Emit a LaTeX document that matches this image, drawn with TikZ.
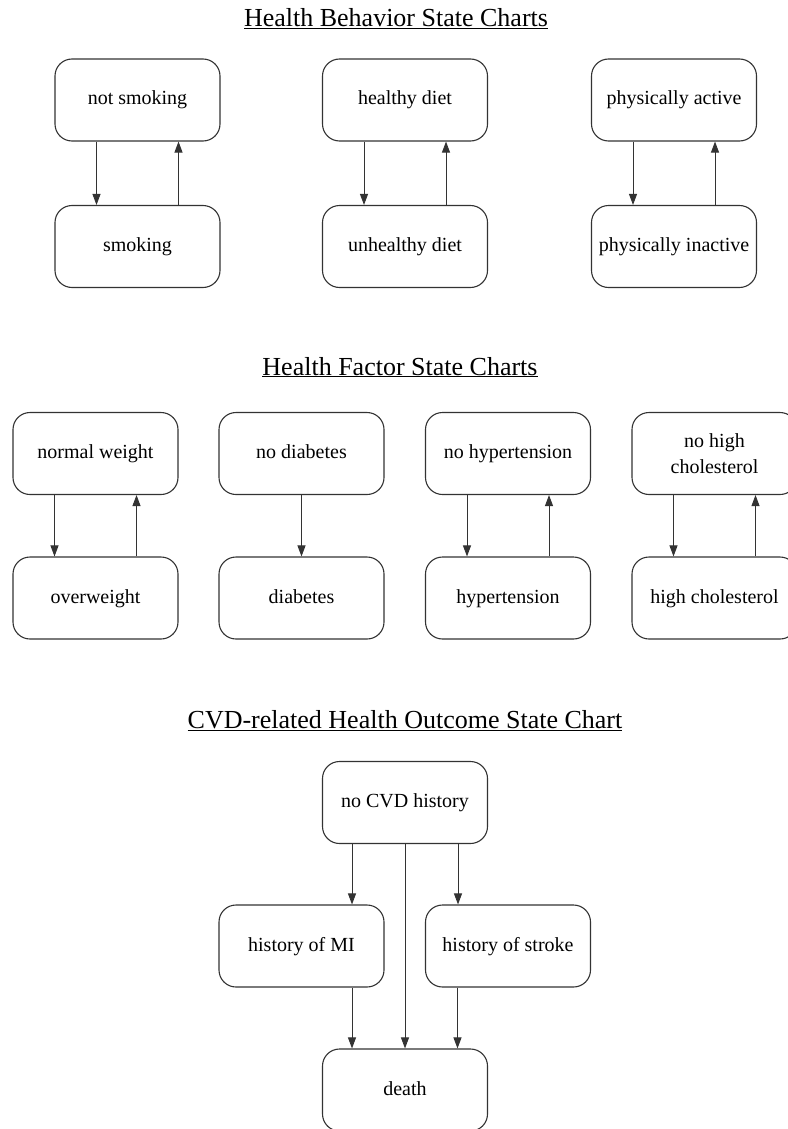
\documentclass[tikz,border=0pt]{standalone}
\usepackage{fontspec}
\setmainfont{Liberation Serif}
\usetikzlibrary{arrows.meta}

\tikzset{
  state/.style={draw=black!80, line width=1.1pt, rounded corners=17pt,
    minimum width=165pt, minimum height=82pt, align=center,
    text height=14pt, text depth=4pt,
    font=\fontsize{20}{26}\selectfont},
  chartttl/.style={anchor=base, font=\fontsize{26}{30}\selectfont},
  arr/.style={-{Triangle[length=11pt,width=8pt]}, line width=0.9pt, draw=black!80}
}

\begin{document}
\begin{tikzpicture}[x=1pt, y=-1pt]
    \useasboundingbox (0,0) rectangle (787,1129);

    % Health behavior
    \node[chartttl] (ttlA) at (396,27) {\underline{Health Behavior State Charts}};

    \node[state] (nosmk)  at (137.5,100)   {not smoking};
    \node[state] (smk)    at (137.5,246.5) {smoking};
    \node[state] (hdiet)  at (405,100)     {healthy diet};
    \node[state] (udiet)  at (405,246.5)   {unhealthy diet};
    \node[state] (pact)   at (674,100)     {physically active};
    \node[state] (pinact) at (674,246.5)   {physically inactive};

    \foreach \a/\b in {nosmk/smk, hdiet/udiet, pact/pinact} {
        \draw[arr] ([xshift=-41pt]\a.south) -- ([xshift=-41pt]\b.north);
        \draw[arr] ([xshift=41pt]\b.north) -- ([xshift=41pt]\a.south);
    }

    % Health factors
    \node[chartttl] (ttlB) at (400,375) {\underline{Health Factor State Charts}};

    \node[state] (nwt)    at (95.5,453.5)  {normal weight};
    \node[state] (owt)    at (95.5,598)    {overweight};
    \node[state] (nodiab) at (301.5,453.5) {no diabetes};
    \node[state] (diab)   at (301.5,598)   {diabetes};
    \node[state] (nohyp)  at (508,453.5)   {no hypertension};
    \node[state] (hyp)    at (508,598)     {hypertension};
    \node[state, text height=, text depth=] (nochol) at (714.5,453.5) {no high\\cholesterol};
    \node[state] (chol)   at (714.5,598)   {high cholesterol};

    \foreach \a/\b in {nwt/owt, nohyp/hyp, nochol/chol} {
        \draw[arr] ([xshift=-41pt]\a.south) -- ([xshift=-41pt]\b.north);
        \draw[arr] ([xshift=41pt]\b.north) -- ([xshift=41pt]\a.south);
    }
    \draw[arr] (nodiab) -- (diab);

    % CVD outcome
    \node[chartttl] (ttlC) at (405,728) {\underline{CVD-related Health Outcome State Chart}};

    \node[state] (nocvd)  at (405,802.5) {no CVD history};
    \node[state] (histmi) at (301.5,946) {history of MI};
    \node[state] (histst) at (508,946)   {history of stroke};
    \node[state] (death)  at (405,1090)  {death};

    \draw[arr] ([xshift=-53pt]nocvd.south) -- ([xshift=-53pt]nocvd.south |- histmi.north);
    \draw[arr] ([xshift=53pt]nocvd.south) -- ([xshift=53pt]nocvd.south |- histst.north);
    \draw[arr] (nocvd) -- (death);
    \draw[arr] ([xshift=50.5pt]histmi.south) -- ([xshift=50.5pt]histmi.south |- death.north);
    \draw[arr] ([xshift=-50.5pt]histst.south) -- ([xshift=-50.5pt]histst.south |- death.north);
\end{tikzpicture}
\end{document}
